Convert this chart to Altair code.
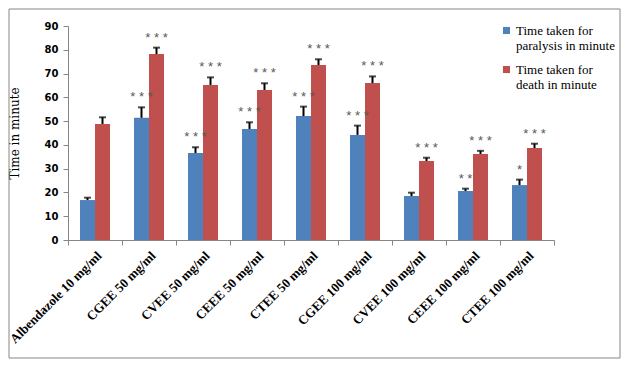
import altair as alt
import pandas as pd

groups = ["Albendazole 10 mg/ml", "CGEE 50 mg/ml", "CVEE 50 mg/ml", "CEEE 50 mg/ml",
          "CTEE 50 mg/ml", "CGEE 100 mg/ml", "CVEE 100 mg/ml", "CEEE 100 mg/ml", "CTEE 100 mg/ml"]
series = ["Time taken for paralysis in minute", "Time taken for death in minute"]
paralysis = [16.8, 51.4, 36.6, 46.7, 52.1, 44.2, 18.5, 20.6, 23.1]
paralysis_err = [1.0, 4.4, 2.4, 2.8, 4.0, 3.9, 1.4, 1.0, 2.3]
death = [48.8, 78.2, 65.2, 63.1, 73.6, 66.0, 33.2, 36.2, 38.7]
death_err = [2.8, 2.7, 3.2, 2.8, 2.4, 2.8, 1.4, 1.3, 1.8]
paralysis_sig = ["", "* * *", "* * *", "* * *", "* * *", "* * *", "", "* *", "*"]
death_sig = ["", "* * *", "* * *", "* * *", "* * *", "* * *", "* * *", "* * *", "* * *"]
y_ticks = [0, 10, 20, 30, 40, 50, 60, 70, 80, 90]

rows = []
for i, g in enumerate(groups):
    rows.append({"group": g, "series": series[0], "value": paralysis[i],
                 "upper": paralysis[i] + paralysis_err[i], "sig": paralysis_sig[i]})
    rows.append({"group": g, "series": series[1], "value": death[i],
                 "upper": death[i] + death_err[i], "sig": death_sig[i]})
df = pd.DataFrame(rows)

W, H = 486, 214
PL, PT, PR, PB = 60, 18, 67, 119

x = alt.X("group:N", sort=groups,
          scale=alt.Scale(paddingInner=0, paddingOuter=0),
          axis=alt.Axis(title=None, labelAngle=-45, labelFont="Liberation Serif",
                        labelFontWeight="bold", labelFontSize=13, labelColor="black",
                        tickBand="extent", tickColor="#868686", tickSize=5,
                        domainColor="#868686", labelPadding=4))
xo = alt.XOffset("series:N", sort=series,
                 scale=alt.Scale(paddingInner=0, paddingOuter=0.8))
yscale = alt.Scale(domain=[0, 90])
yaxis = alt.Axis(values=y_ticks, tickCount=10, grid=False, labelOverlap=False,
                 title="Time in minute", titleFont="DejaVu Serif",
                 titleFontWeight="normal", titleFontSize=12, titleColor="black",
                 titlePadding=23, labelFont="DejaVu Sans", labelFontWeight="bold",
                 labelFontSize=10, labelColor="black", domainColor="#868686",
                 tickColor="#868686", tickSize=5, labelPadding=5)

base = alt.Chart(df)

bars = base.mark_bar().encode(
    x=x, xOffset=xo, y=alt.Y("value:Q", scale=yscale, axis=yaxis),
    color=alt.Color("series:N", sort=series,
                    scale=alt.Scale(domain=series, range=["#4F81BD", "#C0504D"]),
                    legend=alt.Legend(title=None, orient="none", legendX=432, legendY=-2,
                                      symbolType="square", symbolSize=50,
                                      symbolStrokeWidth=0,
                                      labelFont="Liberation Serif", labelFontSize=13,
                                      labelColor="black", labelLimit=200,
                                      rowPadding=10, labelOffset=3,
                                      labelExpr="[slice(datum.label,0,14), slice(datum.label,15)]"))
)

err = base.mark_rule(color="black", strokeWidth=2).encode(
    x=x, xOffset=xo, y=alt.Y("value:Q", scale=yscale, axis=yaxis), y2="upper:Q")

caps = base.mark_tick(color="black", thickness=2, size=7).encode(
    x=x, xOffset=xo, y=alt.Y("upper:Q", scale=yscale, axis=yaxis))

stars = base.mark_text(baseline="bottom", dy=-3, font="Liberation Sans",
                       fontSize=13, color="#595959").encode(
    x=x, xOffset=xo, y=alt.Y("upper:Q", scale=yscale, axis=yaxis), text="sig:N")

border = alt.Chart(pd.DataFrame({"a": [0]})).mark_rect(
    fill=None, stroke="#868686", strokeWidth=1).encode(
    x=alt.value(-PL + 1), x2=alt.value(W + PR - 1),
    y=alt.value(-PT + 1), y2=alt.value(H + PB - 1))

chart = alt.layer(border, bars, err, caps, stars).properties(
    width=W, height=H,
    autosize=alt.AutoSizeParams(type="none"),
    padding={"left": PL, "top": PT, "right": PR, "bottom": PB},
    background="white",
).configure_view(stroke=None)

chart.save("out.html", embed_options={"renderer": "svg", "actions": False})
